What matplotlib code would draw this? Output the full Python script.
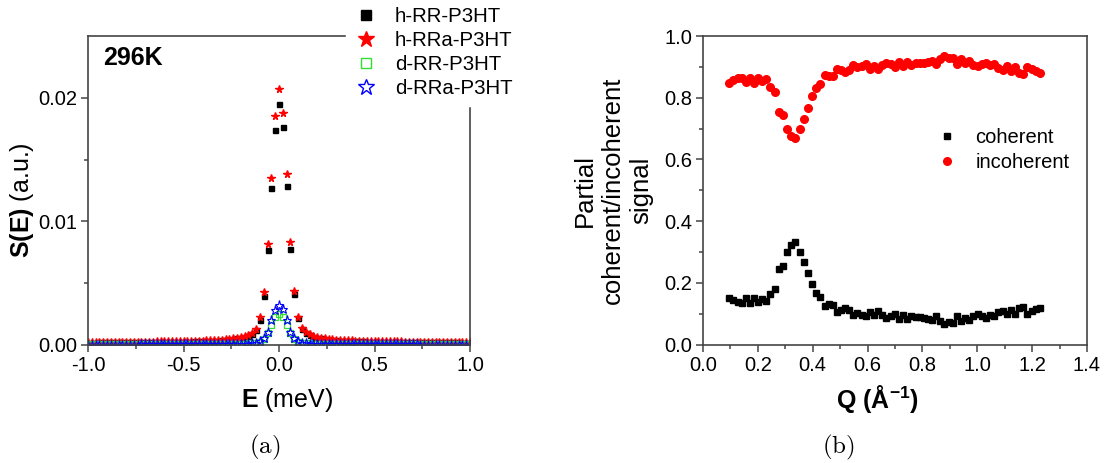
import matplotlib
matplotlib.use("Agg")
import matplotlib.pyplot as plt
import matplotlib.transforms as mtrans
from matplotlib.lines import Line2D

plt.rcParams['font.family'] = ['Liberation Sans', 'DejaVu Sans']
plt.rcParams['mathtext.fontset'] = 'custom'
plt.rcParams['mathtext.rm'] = 'Liberation Sans'
plt.rcParams['mathtext.bf'] = 'Liberation Sans:bold'
plt.rcParams['mathtext.it'] = 'Liberation Sans:italic'

# ---- panel (a): S(E) at 296K ----
energy = [
    -1.00, -0.98, -0.96, -0.94, -0.92, -0.90, -0.88, -0.86, -0.84, -0.82,
    -0.80, -0.78, -0.76, -0.74, -0.72, -0.70, -0.68, -0.66, -0.64, -0.62,
    -0.60, -0.58, -0.56, -0.54, -0.52, -0.50, -0.48, -0.46, -0.44, -0.42,
    -0.40, -0.38, -0.36, -0.34, -0.32, -0.30, -0.28, -0.26, -0.24, -0.22,
    -0.20, -0.18, -0.16, -0.14, -0.12, -0.10, -0.08, -0.06, -0.04, -0.02,
    0.00,
    0.02, 0.04, 0.06, 0.08, 0.10, 0.12, 0.14, 0.16, 0.18, 0.20,
    0.22, 0.24, 0.26, 0.28, 0.30, 0.32, 0.34, 0.36, 0.38, 0.40,
    0.42, 0.44, 0.46, 0.48, 0.50, 0.52, 0.54, 0.56, 0.58, 0.60,
    0.62, 0.64, 0.66, 0.68, 0.70, 0.72, 0.74, 0.76, 0.78, 0.80,
    0.82, 0.84, 0.86, 0.88, 0.90, 0.92, 0.94, 0.96, 0.98, 1.00,
]

h_rr = [
    0.00020, 0.00020, 0.00020, 0.00021, 0.00021, 0.00021, 0.00021, 0.00021, 0.00022, 0.00022,
    0.00022, 0.00022, 0.00023, 0.00023, 0.00023, 0.00023, 0.00024, 0.00024, 0.00024, 0.00025,
    0.00025, 0.00025, 0.00026, 0.00026, 0.00027, 0.00027, 0.00028, 0.00028, 0.00029, 0.00030,
    0.00031, 0.00032, 0.00033, 0.00034, 0.00036, 0.00038, 0.00041, 0.00044, 0.00048, 0.00053,
    0.00059, 0.00066, 0.00076, 0.00093, 0.0012, 0.0020, 0.0040, 0.0077, 0.0127, 0.0174,
    0.0195,
    0.0176, 0.0129, 0.0078, 0.0041, 0.0022, 0.0013, 0.00095, 0.00077, 0.00066, 0.00059,
    0.00053, 0.00048, 0.00044, 0.00041, 0.00038, 0.00036, 0.00034, 0.00033, 0.00032, 0.00031,
    0.00030, 0.00029, 0.00028, 0.00028, 0.00027, 0.00027, 0.00026, 0.00026, 0.00025, 0.00025,
    0.00025, 0.00024, 0.00024, 0.00024, 0.00023, 0.00023, 0.00023, 0.00023, 0.00022, 0.00022,
    0.00022, 0.00022, 0.00021, 0.00021, 0.00021, 0.00021, 0.00021, 0.00020, 0.00020, 0.00020,
]

h_rra = [
    0.00024, 0.00024, 0.00024, 0.00025, 0.00025, 0.00025, 0.00025, 0.00026, 0.00026, 0.00026,
    0.00026, 0.00027, 0.00027, 0.00027, 0.00027, 0.00028, 0.00028, 0.00028, 0.00029, 0.00029,
    0.00029, 0.00030, 0.00030, 0.00031, 0.00031, 0.00032, 0.00032, 0.00033, 0.00034, 0.00035,
    0.00036, 0.00037, 0.00038, 0.00039, 0.00041, 0.00043, 0.00046, 0.00049, 0.00053, 0.00058,
    0.00064, 0.00072, 0.00084, 0.00100, 0.0013, 0.00226, 0.00427, 0.0082, 0.0135, 0.0185,
    0.0207,
    0.0188, 0.0138, 0.0083, 0.00435, 0.00226, 0.00137, 0.00103, 0.00086, 0.00073, 0.00065,
    0.00058, 0.00053, 0.00049, 0.00046, 0.00043, 0.00041, 0.00039, 0.00038, 0.00037, 0.00036,
    0.00035, 0.00034, 0.00033, 0.00032, 0.00032, 0.00031, 0.00031, 0.00030, 0.00030, 0.00029,
    0.00029, 0.00029, 0.00028, 0.00028, 0.00028, 0.00027, 0.00027, 0.00027, 0.00026, 0.00026,
    0.00026, 0.00026, 0.00025, 0.00025, 0.00025, 0.00025, 0.00024, 0.00024, 0.00024, 0.00024,
]

d_rr = [
    0.00005, 0.00005, 0.00005, 0.00005, 0.00005, 0.00005, 0.00005, 0.00005, 0.00005, 0.00005,
    0.00005, 0.00005, 0.00005, 0.00005, 0.00006, 0.00006, 0.00006, 0.00006, 0.00006, 0.00006,
    0.00006, 0.00006, 0.00006, 0.00007, 0.00007, 0.00007, 0.00007, 0.00007, 0.00007, 0.00007,
    0.00007, 0.00007, 0.00008, 0.00008, 0.00008, 0.00008, 0.00009, 0.00009, 0.00010, 0.00010,
    0.00011, 0.00012, 0.00013, 0.00014, 0.00018, 0.00028, 0.0005, 0.0010, 0.0016, 0.0023,
    0.0025,
    0.0023, 0.0016, 0.0010, 0.0005, 0.00028, 0.00018, 0.00014, 0.00013, 0.00012, 0.00011,
    0.00010, 0.00010, 0.00009, 0.00009, 0.00008, 0.00008, 0.00008, 0.00008, 0.00007, 0.00007,
    0.00007, 0.00007, 0.00007, 0.00007, 0.00007, 0.00006, 0.00006, 0.00006, 0.00006, 0.00006,
    0.00006, 0.00006, 0.00006, 0.00006, 0.00006, 0.00006, 0.00005, 0.00005, 0.00005, 0.00005,
    0.00005, 0.00005, 0.00005, 0.00005, 0.00005, 0.00005, 0.00005, 0.00005, 0.00005, 0.00005,
]

d_rra = [
    0.00004, 0.00004, 0.00004, 0.00004, 0.00004, 0.00004, 0.00004, 0.00004, 0.00004, 0.00004,
    0.00004, 0.00004, 0.00004, 0.00004, 0.00005, 0.00005, 0.00005, 0.00005, 0.00005, 0.00005,
    0.00005, 0.00005, 0.00005, 0.00005, 0.00005, 0.00006, 0.00006, 0.00006, 0.00006, 0.00006,
    0.00006, 0.00006, 0.00006, 0.00007, 0.00007, 0.00007, 0.00007, 0.00008, 0.00008, 0.00009,
    0.00009, 0.00010, 0.00011, 0.00013, 0.00018, 0.0003, 0.00056, 0.00105, 0.0020, 0.00282,
    0.00323,
    0.0029, 0.0020, 0.00105, 0.00056, 0.0003, 0.00018, 0.00013, 0.00011, 0.00010, 0.00009,
    0.00009, 0.00008, 0.00008, 0.00007, 0.00007, 0.00007, 0.00007, 0.00006, 0.00006, 0.00006,
    0.00006, 0.00006, 0.00006, 0.00006, 0.00006, 0.00005, 0.00005, 0.00005, 0.00005, 0.00005,
    0.00005, 0.00005, 0.00005, 0.00005, 0.00005, 0.00005, 0.00004, 0.00004, 0.00004, 0.00004,
    0.00004, 0.00004, 0.00004, 0.00004, 0.00004, 0.00004, 0.00004, 0.00004, 0.00004, 0.00004,
]

# ---- panel (b): partial coherent / incoherent signal vs Q ----
q = [
    0.096, 0.111, 0.126, 0.141, 0.156, 0.171, 0.186, 0.201, 0.216, 0.231,
    0.246, 0.261, 0.276, 0.292, 0.307, 0.322, 0.337, 0.352, 0.367, 0.382,
    0.397, 0.412, 0.427, 0.443, 0.458, 0.473, 0.488, 0.503, 0.518, 0.533,
    0.548, 0.563, 0.578, 0.594, 0.609, 0.624, 0.639, 0.654, 0.669, 0.684,
    0.699, 0.714, 0.729, 0.745, 0.760, 0.775, 0.790, 0.805, 0.820, 0.835,
    0.850, 0.865, 0.880, 0.896, 0.911, 0.926, 0.941, 0.956, 0.971, 0.986,
    1.001, 1.016, 1.031, 1.047, 1.062, 1.077, 1.092, 1.107, 1.122, 1.137,
    1.152, 1.167, 1.182, 1.198, 1.213, 1.228,
]

coherent = [
    0.151, 0.143, 0.137, 0.135, 0.150, 0.135, 0.152, 0.137, 0.146, 0.140,
    0.164, 0.181, 0.245, 0.256, 0.301, 0.324, 0.332, 0.301, 0.268, 0.232,
    0.196, 0.167, 0.154, 0.126, 0.130, 0.129, 0.106, 0.111, 0.118, 0.111,
    0.095, 0.102, 0.097, 0.091, 0.106, 0.097, 0.108, 0.095, 0.086, 0.091,
    0.100, 0.084, 0.097, 0.084, 0.093, 0.089, 0.089, 0.086, 0.084, 0.080,
    0.091, 0.076, 0.065, 0.072, 0.070, 0.091, 0.076, 0.086, 0.081, 0.093,
    0.098, 0.091, 0.086, 0.095, 0.091, 0.104, 0.109, 0.098, 0.112, 0.100,
    0.119, 0.122, 0.100, 0.108, 0.115, 0.119,
]

incoherent = [
    0.849, 0.857, 0.863, 0.865, 0.850, 0.865, 0.848, 0.863, 0.854, 0.860,
    0.836, 0.819, 0.755, 0.744, 0.699, 0.676, 0.668, 0.699, 0.732, 0.768,
    0.804, 0.833, 0.846, 0.874, 0.870, 0.871, 0.894, 0.889, 0.882, 0.889,
    0.905, 0.898, 0.903, 0.909, 0.894, 0.903, 0.892, 0.905, 0.914, 0.909,
    0.900, 0.916, 0.903, 0.916, 0.907, 0.911, 0.911, 0.914, 0.916, 0.920,
    0.909, 0.924, 0.935, 0.928, 0.930, 0.909, 0.924, 0.914, 0.919, 0.907,
    0.902, 0.909, 0.914, 0.905, 0.909, 0.896, 0.891, 0.902, 0.888, 0.900,
    0.881, 0.878, 0.900, 0.892, 0.885, 0.881,
]

W, H = 1104, 463
fig = plt.figure(figsize=(W / 100, H / 100), dpi=100)
spine_col = '#444444'

ax1 = fig.add_axes([88 / W, 1 - 345 / H, 382 / W, 309 / H])
ax2 = fig.add_axes([703 / W, 1 - 344.5 / H, 384 / W, 308.5 / H])

# panel (a)
ax1.plot(energy, h_rr, 's', ms=3.6, color='black', label='h-RR-P3HT')
ax1.plot(energy, h_rra, '*', ms=5.5, color='red', label='h-RRa-P3HT')
ax1.plot(energy, d_rr, 's', ms=4, mfc='none', mec='#33dd33', mew=0.9, label='d-RR-P3HT')
ax1.plot(energy, d_rra, '*', ms=6.5, mfc='none', mec='blue', mew=0.8, label='d-RRa-P3HT')
ax1.set_xlim(-1.0, 1.0)
ax1.set_ylim(0.0, 0.025)
ax1.set_xticks([-1.0, -0.5, 0.0, 0.5, 1.0])
ax1.set_xticklabels(['-1.0', '-0.5', '0.0', '0.5', '1.0'])
ax1.set_xticks([-0.75, -0.25, 0.25, 0.75], minor=True)
ax1.set_yticks([0.0, 0.01, 0.02])
ax1.set_yticklabels(['0.00', '0.01', '0.02'])
ax1.set_yticks([0.005, 0.015], minor=True)
ax1.text(0.04, 0.968, '296K', transform=ax1.transAxes, va='top', ha='left',
         fontsize=18, fontweight='bold')

# y tick labels sit a bit above their ticks in the original
shift = mtrans.ScaledTranslation(0, 16 / 100, fig.dpi_scale_trans)
for lab in ax1.get_yticklabels():
    lab.set_transform(lab.get_transform() + shift)

ax1.set_xlabel(r'$\mathbf{E}$ (meV)', fontsize=18, va='center')
ax1.xaxis.set_label_coords(0.52, -0.178)
ax1.set_ylabel(r'$\mathbf{S(E)}$ (a.u.)', fontsize=18, va='center')
ax1.yaxis.set_label_coords(-0.173, 0.47)

handles = [
    Line2D([], [], ls='none', marker='s', ms=7.5, color='black'),
    Line2D([], [], ls='none', marker='*', ms=12, color='red'),
    Line2D([], [], ls='none', marker='s', ms=7.5, mfc='none', mec='#33dd33', mew=1),
    Line2D([], [], ls='none', marker='*', ms=12, mfc='none', mec='blue', mew=1),
]
leg = ax1.legend(handles, ['h-RR-P3HT', 'h-RRa-P3HT', 'd-RR-P3HT', 'd-RRa-P3HT'],
                 loc='upper left', bbox_to_anchor=(346 / W, 1 + 1 / H),
                 bbox_transform=fig.transFigure, fontsize=14.7, frameon=True,
                 fancybox=False, edgecolor='white', facecolor='white', framealpha=1,
                 borderpad=0.4, borderaxespad=0, handlelength=1.2,
                 handletextpad=0.8, labelspacing=0.24)

# panel (b)
ax2.plot(q, coherent, 's', ms=5, color='black', label='coherent')
ax2.plot(q, incoherent, 'o', ms=5.5, color='red', label='incoherent')
ax2.set_xlim(0.0, 1.4)
ax2.set_ylim(0.0, 1.0)
ax2.set_xticks([0.0, 0.2, 0.4, 0.6, 0.8, 1.0, 1.2, 1.4])
ax2.set_xticklabels(['0.0', '0.2', '0.4', '0.6', '0.8', '1.0', '1.2', '1.4'])
ax2.set_xticks([0.1, 0.3, 0.5, 0.7, 0.9, 1.1, 1.3], minor=True)
ax2.set_yticks([0.0, 0.2, 0.4, 0.6, 0.8, 1.0])
ax2.set_yticklabels(['0.0', '0.2', '0.4', '0.6', '0.8', '1.0'])
ax2.set_yticks([0.1, 0.3, 0.5, 0.7, 0.9], minor=True)
ax2.set_xlabel(r'Q (Å$^{\mathbf{-1}}$)', fontsize=18, fontweight='bold', va='center')
ax2.xaxis.set_label_coords(0.453, -0.178)
ax2.set_ylabel('Partial\ncoherent/incoherent\nsignal', fontsize=18.5, va='center',
               linespacing=1.2)
ax2.yaxis.set_label_coords(-0.234, 0.5)
ax2.legend(loc='upper left', bbox_to_anchor=(927 / W, 1 - 120 / H),
           bbox_transform=fig.transFigure, fontsize=14.5, frameon=False,
           borderpad=0.4, borderaxespad=0, handlelength=1.2,
           handletextpad=0.8, labelspacing=0.3)

for ax in (ax1, ax2):
    for sp in ax.spines.values():
        sp.set_color(spine_col)
        sp.set_linewidth(1.2)
    ax.tick_params(which='both', direction='out', top=False, right=False,
                   color=spine_col, width=1.1)
    ax.tick_params(which='major', length=5, labelsize=14.5, pad=3)
    ax.tick_params(which='minor', length=3)

# sub-figure captions
fig.text(265 / W, 1 - 447 / H, r'$\mathrm{(a)}$', math_fontfamily='cm',
         fontsize=18, ha='center', va='center')
fig.text(838 / W, 1 - 447 / H, r'$\mathrm{(b)}$', math_fontfamily='cm',
         fontsize=18, ha='center', va='center')

fig.savefig('out.png', dpi=100)
